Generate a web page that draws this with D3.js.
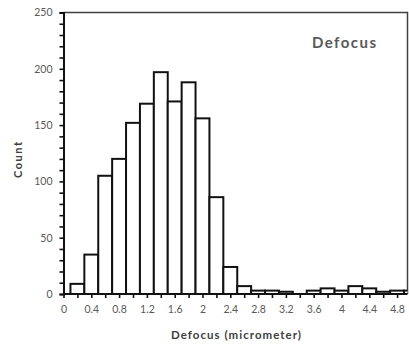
<!DOCTYPE html>
<html><head><meta charset="utf-8">
<script src="https://cdn.jsdelivr.net/npm/d3@7"></script>
<style>body{margin:0;background:#fff;} svg{display:block;}</style>
</head><body>
<svg id="chart" width="409" height="346"></svg>
<script>
const binCenters = [0.2,0.4,0.6,0.8,1.0,1.2,1.4,1.6,1.8,2.0,2.2,2.4,2.6,2.8,3.0,3.2,3.4,3.6,3.8,4.0,4.2,4.4,4.6,4.8,5.0];
const counts     = [9,35,105,120,152,169,197,171,188,156,86,24,7,3,3,2,0,3,5,3,7,5,2,3,3];
const xTickValues = [0,0.2,0.4,0.6,0.8,1.0,1.2,1.4,1.6,1.8,2.0,2.2,2.4,2.6,2.8,3.0,3.2,3.4,3.6,3.8,4.0,4.2,4.4,4.6,4.8];
const xTickLabels = ["0","","0.4","","0.8","","1.2","","1.6","","2","","2.4","","2.8","","3.2","","3.6","","4","","4.4","","4.8"];
const yTickValues = [0,50,100,150,200,250];
const title = "Defocus";
const xTitle = "Defocus (micrometer)";
const yTitle = "Count";

const svg = d3.select("#chart");
const font = "Lato, 'Open Sans', sans-serif";
const L = 63.5, R = 407.5, T = 12.5, B = 294;
const x = d3.scaleLinear().domain([0, 4.95]).range([L, R]);
const y = d3.scaleLinear().domain([0, 250]).range([B, T]);

svg.append("defs").append("clipPath").attr("id","clip")
  .append("rect").attr("x", L).attr("y", T - 2).attr("width", R - L).attr("height", B - T + 2);

// frame (top & right)
svg.append("path")
  .attr("d", `M${L},${T}H${R}V${B}`)
  .attr("fill","none").attr("stroke","#404040").attr("stroke-width",1.5);

// bars
svg.append("g").attr("clip-path","url(#clip)")
  .selectAll("rect").data(binCenters.map((c,i)=>({c, v:counts[i]})))
  .join("rect")
  .attr("x", d => x(d.c - 0.1))
  .attr("width", d => x(d.c + 0.1) - x(d.c - 0.1))
  .attr("y", d => y(d.v))
  .attr("height", d => y(0) - y(d.v))
  .attr("fill","#fff").attr("stroke","#111").attr("stroke-width",2);

// y axis
const yAxis = svg.append("g").attr("transform",`translate(${L},0)`)
  .call(d3.axisLeft(y).tickValues(d3.range(0, 251, 10)).tickSize(4)
    .tickFormat(d => yTickValues.includes(d) ? d : ""));
yAxis.select(".domain").attr("stroke","#111").attr("stroke-width",2);
yAxis.selectAll(".tick line").attr("stroke","#111").attr("stroke-width",1.6);
yAxis.selectAll(".tick text").attr("x",-11).attr("fill","#595959")
  .style("font-family",font).style("font-size","10.5px");

// x axis
const xAxis = svg.append("g").attr("transform",`translate(0,${B})`)
  .call(d3.axisBottom(x).tickValues(xTickValues).tickSize(4)
    .tickFormat((d,i) => xTickLabels[i]));
xAxis.select(".domain").attr("d", `M${L},0H${R}`).attr("stroke","#111").attr("stroke-width",2);
xAxis.selectAll(".tick line").attr("stroke","#111").attr("stroke-width",1.6);
xAxis.selectAll(".tick text").attr("y",12).attr("fill","#595959")
  .style("font-family",font).style("font-size","10.5px");

// titles
svg.append("text").attr("x",344).attr("y",48).attr("text-anchor","middle")
  .attr("textLength",64).attr("lengthAdjust","spacing")
  .attr("fill","#595959").style("font-family",font).style("font-size","15px").style("font-weight","bold")
  .text(title);
svg.append("text").attr("x",236).attr("y",339).attr("text-anchor","middle")
  .attr("textLength",130).attr("lengthAdjust","spacing")
  .attr("fill","#404040").style("font-family",font).style("font-size","11.5px").style("font-weight","bold")
  .text(xTitle);
svg.append("text").attr("transform","translate(22,160) rotate(-90)").attr("text-anchor","middle")
  .attr("textLength",36).attr("lengthAdjust","spacing")
  .attr("fill","#404040").style("font-family",font).style("font-size","11px").style("font-weight","bold")
  .text(yTitle);
</script>
</body></html>
